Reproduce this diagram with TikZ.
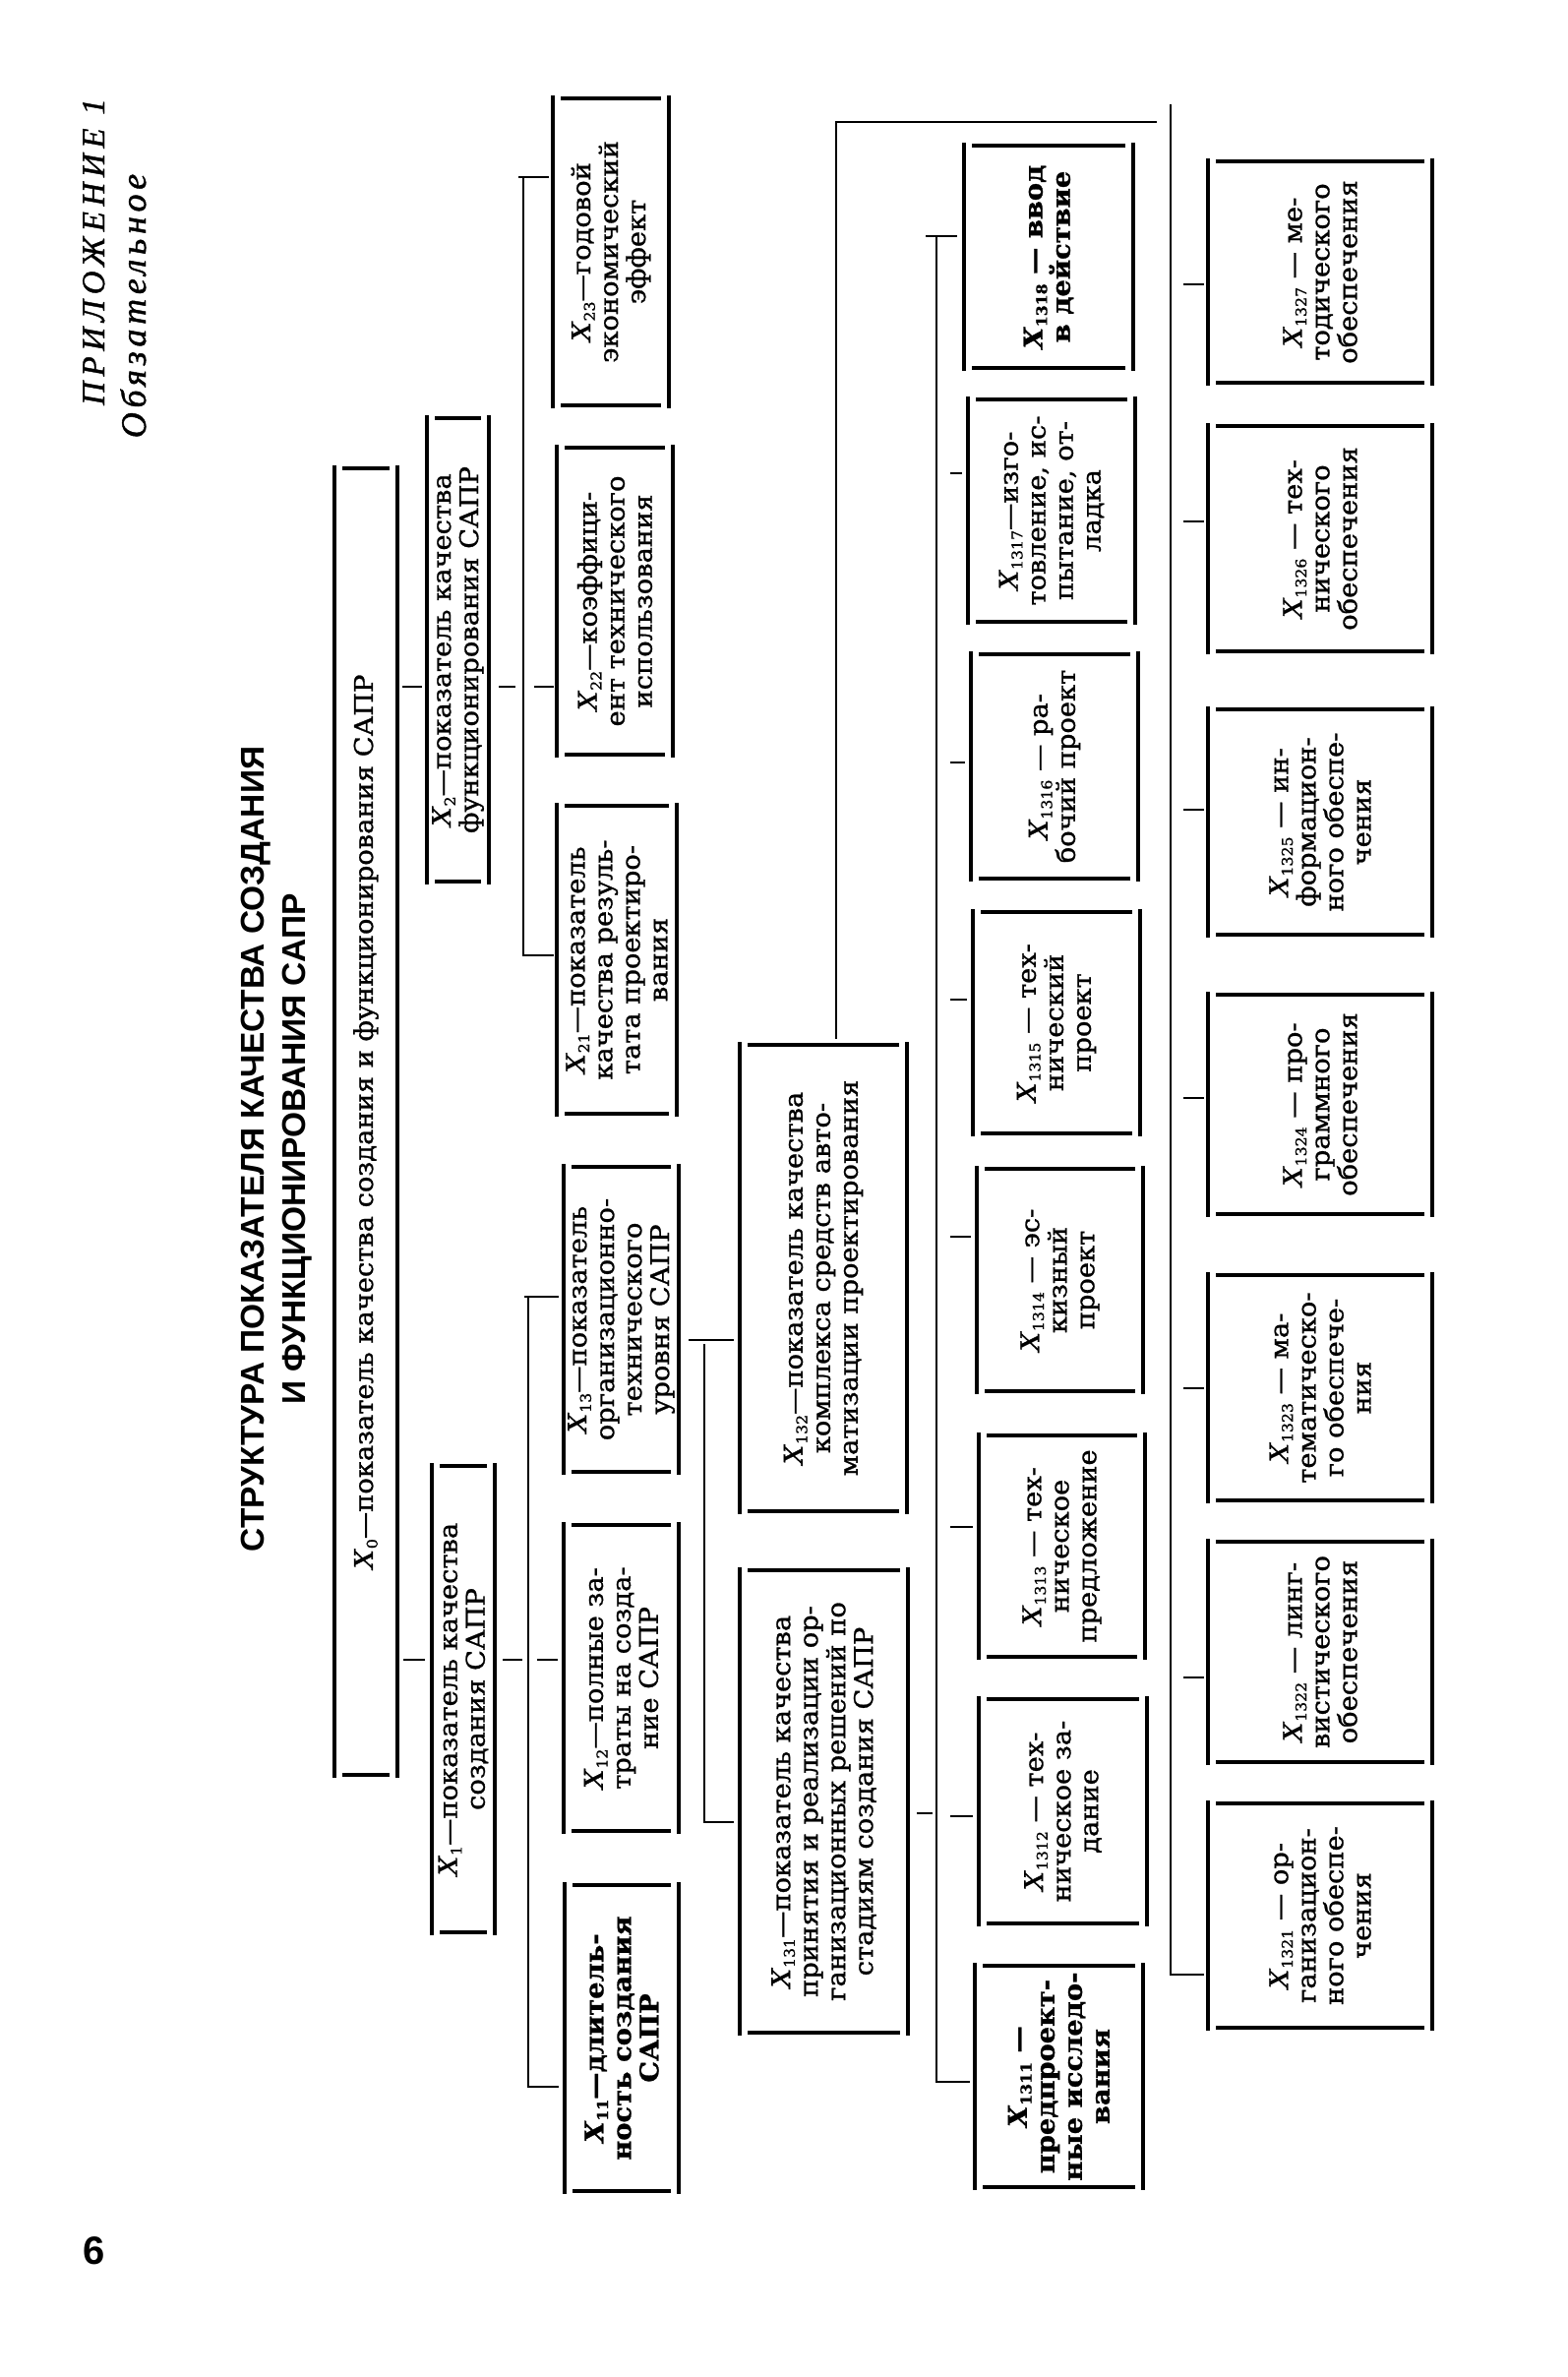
\documentclass[tikz,border=0pt]{standalone}
\usepackage{fontspec}
\setmainfont{DejaVu Serif}[FakeStretch=1.05, FakeBold=1]
\newfontfamily\ttlfont{Liberation Sans}
\newfontfamily\hdrfont{Liberation Serif}[FakeBold=1.2]
\usetikzlibrary{fit}

\newcommand\Xn[1]{\textit{X}\raisebox{-0.35ex}{\fontsize{15}{15}\selectfont #1}}

\tikzset{
  boxarea/.style={inner sep=0pt, outer sep=0pt, draw=none},
  boxtext/.style={rotate=90, align=center, inner sep=0pt, font=\fontsize{26}{28}\selectfont},
  boldtext/.style={font=\fontsize{26}{28}\selectfont\bfseries},
  vside/.style={line width=3.2pt},
  hside/.style={line width=3.2pt},
  conn/.style={line width=2.8pt},
  ttl/.style={font=\ttlfont\bfseries\fontsize{33.5}{36}\selectfont, rotate=90, anchor=base, inner sep=0pt},
  hdr/.style={font=\hdrfont\itshape\fontsize{33}{36}\selectfont\addfontfeature{LetterSpace=17}, rotate=90, anchor=base, inner sep=0pt},
  hdrb/.style={font=\hdrfont\itshape\fontsize{36}{40}\selectfont\addfontfeature{LetterSpace=13}, rotate=90, anchor=base, inner sep=0pt},
  pnum/.style={font=\ttlfont\bfseries\fontsize{40}{44}\selectfont, inner sep=0pt}
}

% name, left, right, top, bottom, text, extra text style
\newcommand\mkbox[7]{%
  \coordinate (#1-a) at (#2,#4);
  \coordinate (#1-b) at (#3,#5);
  \node[boxarea, fit=(#1-a)(#1-b)] (#1) {};
  \node[boxtext,#7] (#1-t) at (#1.center) {#6};
  \draw[vside] ([yshift=3pt]#1.north west) -- ([yshift=-3pt]#1.south west);
  \draw[vside] ([yshift=3pt]#1.north east) -- ([yshift=-3pt]#1.south east);
  \draw[hside] ([xshift=8pt]#1.north west) -- ([xshift=-8pt]#1.north east);
  \draw[hside] ([xshift=8pt]#1.south west) -- ([xshift=-8pt]#1.south east);
}

\begin{document}
\begin{tikzpicture}[x=1pt,y=-1pt]
\useasboundingbox (0,0) rectangle (1593,2416);
\fill[white] (0,0) rectangle (1593,2416);

% header, title, page number
\node[hdr] (app) at (106,256) {ПРИЛОЖЕНИЕ 1};
\node[hdrb] (oblig) at (148,311) {Обязательное};
\node[ttl] (title1) at (268,1168) {СТРУКТУРА ПОКАЗАТЕЛЯ КАЧЕСТВА СОЗДАНИЯ};
\node[ttl] (title2) at (310,1168) {И ФУНКЦИОНИРОВАНИЯ САПР};
\node[pnum] (pg) at (96,2288) {6};

% boxes
\mkbox{x0}{340}{404}{476}{1804}{\Xn{0}—показатель качества создания и функционирования САПР}{}
\mkbox{x1}{439}{503}{1490}{1964}{\Xn{1}—показатель качества\\создания САПР}{}
\mkbox{x2}{434}{497}{425}{896}{\Xn{2}—показатель качества\\функционирования САПР}{}

\mkbox{x11}{574}{690}{1916}{2227}{\Xn{11}—длитель-\\ность создания\\САПР}{boldtext}
\mkbox{x12}{573}{690}{1550}{1861}{\Xn{12}—полные за-\\траты на созда-\\ние САПР}{}
\mkbox{x13}{573}{690}{1186}{1496}{\Xn{13}—показатель\\организационно-\\технического\\уровня САПР}{}
\mkbox{x21}{566}{688}{819}{1132}{\Xn{21}—показатель\\качества резуль-\\тата проектиро-\\вания}{}
\mkbox{x22}{566}{684}{455}{767}{\Xn{22}—коэффици-\\ент технического\\использования}{}
\mkbox{x23}{562}{680}{100}{412}{\Xn{23}—годовой\\экономический\\эффект}{}

\mkbox{x131}{752}{923}{1596}{2066}{\Xn{131}—показатель качества\\принятия и реализации ор-\\ганизационных решений по\\стадиям создания САПР}{}
\mkbox{x132}{752}{922}{1062}{1536}{\Xn{132}—показатель качества\\комплекса средств авто-\\матизации проектирования}{}

\mkbox{x1311}{991}{1162}{1998}{2223}{\Xn{1311} —\\предпроект-\\ные исследо-\\вания}{boldtext}
\mkbox{x1312}{995}{1166}{1727}{1955}{\Xn{1312} — тех-\\ническое за-\\дание}{}
\mkbox{x1313}{995}{1164}{1459}{1684}{\Xn{1313} — тех-\\ническое\\предложение}{}
\mkbox{x1314}{993}{1162}{1188}{1414}{\Xn{1314} — эс-\\кизный\\проект}{}
\mkbox{x1315}{989}{1159}{927}{1152}{\Xn{1315} — тех-\\нический\\проект}{}
\mkbox{x1316}{987}{1157}{665}{893}{\Xn{1316} — ра-\\бочий проект}{}
\mkbox{x1317}{984}{1154}{406}{632}{\Xn{1317}—изго-\\товление, ис-\\пытание, от-\\ладка}{}
\mkbox{x1318}{980}{1152}{148}{374}{\Xn{1318} — ввод\\в действие}{boldtext}

\mkbox{x1321}{1228}{1456}{1833}{2061}{\Xn{1321} — ор-\\ганизацион-\\ного обеспе-\\чения}{}
\mkbox{x1322}{1228}{1456}{1567}{1791}{\Xn{1322} — линг-\\вистического\\обеспечения}{}
\mkbox{x1323}{1228}{1456}{1296}{1525}{\Xn{1323} — ма-\\тематическо-\\го обеспече-\\ния}{}
\mkbox{x1324}{1228}{1456}{1011}{1234}{\Xn{1324} — про-\\граммного\\обеспечения}{}
\mkbox{x1325}{1228}{1456}{721}{950}{\Xn{1325} — ин-\\формацион-\\ного обеспе-\\чения}{}
\mkbox{x1326}{1228}{1456}{433}{662}{\Xn{1326} — тех-\\нического\\обеспечения}{}
\mkbox{x1327}{1228}{1456}{164}{389}{\Xn{1327} — ме-\\тодического\\обеспечения}{}

% ---- connectors ----
% X0 -> X2 -> X21..X23
\coordinate (t2) at (0,698);
\coordinate (b2top) at (532,180);
\coordinate (b2bot) at (532,971);
\draw[conn] ([xshift=5pt]x0.east |- t2) -- ([xshift=-5pt]x2.west |- t2);
\draw[conn] ([xshift=10pt]x2.east |- t2) -- ([xshift=-8pt]b2top |- t2);
\draw[conn] ([xshift=11pt]b2top |- t2) -- ([xshift=-3pt]x22.west |- t2);
\draw[conn] ([xshift=-5pt]b2top) -- ([xshift=-4pt]x23.west |- b2top);
\draw[conn] (b2top) -- (b2bot) -- ([xshift=-3pt]x21.west |- b2bot);

% X0 -> X1 -> X11..X13
\coordinate (t1) at (0,1687);
\coordinate (b1top) at (537,1318);
\coordinate (b1bot) at (537,2121);
\draw[conn] ([xshift=6pt]x0.east |- t1) -- ([xshift=-7pt]x1.west |- t1);
\draw[conn] ([xshift=8pt]x1.east |- t1) -- ([xshift=-6pt]b1top |- t1);
\draw[conn] ([xshift=9pt]b1top |- t1) -- ([xshift=-6pt]x12.west |- t1);
\draw[conn] ([xshift=-4pt]b1top) -- ([xshift=-5pt]x13.west |- b1top);
\draw[conn] (b1top) -- (b1bot) -- ([xshift=-6pt]x11.west |- b1bot);

% X13 -> X131, X132
\coordinate (b13top) at (716,1362);
\coordinate (b13bot) at (716,1852);
\draw[conn] ([xshift=10pt]x13.east |- b13top) -- ([xshift=-6pt]x132.west |- b13top);
\draw[conn] ([yshift=-4pt]b13top) -- (b13bot) -- ([xshift=-6pt]x131.west |- b13bot);

% X131 -> X1311..X1318
\coordinate (t131) at (0,1843);
\coordinate (b131top) at (952,240);
\coordinate (b131bot) at (952,2116);
\draw[conn] ([xshift=9pt]x131.east |- t131) -- ([xshift=-4pt]b131top |- t131);
\draw[conn] ([xshift=-11pt]b131top) -- ([xshift=-7pt]x1318.west |- b131top);
\draw[conn] (b131top) -- (b131bot) -- ([xshift=-5pt]x1311.west |- b131bot);
\coordinate (k1317) at (0,481);
\coordinate (k1316) at (0,775);
\coordinate (k1315) at (0,1016);
\coordinate (k1314) at (0,1257);
\coordinate (k1313) at (0,1552);
\coordinate (k1312) at (0,1846);
\foreach \c in {1317,1316,1315,1314,1313,1312}{
  \draw[conn] ([xshift=14pt]b131top |- k\c) -- ([xshift=-6pt]x\c.west |- k\c);
}

% X132 -> X1321..X1327
\coordinate (u132) at (850,124);
\coordinate (b132top) at (1190,106);
\coordinate (b132bot) at (1190,2007);
\draw[conn] ([yshift=6pt]x132.north -| u132) -- (u132) -- ([xshift=-14pt]u132 -| b132top);
\draw[conn] (b132top) -- (b132bot) -- ([xshift=-4pt]x1321.west |- b132bot);
\coordinate (k1327) at (0,289);
\coordinate (k1326) at (0,530);
\coordinate (k1325) at (0,823);
\coordinate (k1324) at (0,1116);
\coordinate (k1323) at (0,1411);
\coordinate (k1322) at (0,1705);
\foreach \c in {1327,1326,1325,1324,1323,1322}{
  \draw[conn] ([xshift=13pt]b132top |- k\c) -- ([xshift=-4pt]x\c.west |- k\c);
}
\end{tikzpicture}
\end{document}
